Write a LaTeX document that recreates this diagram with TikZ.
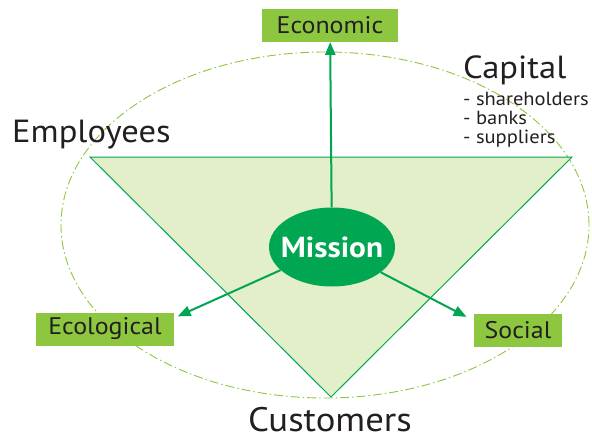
\documentclass[tikz,border=0pt]{standalone}
\usepackage{fontspec}
\setmainfont{PT Sans}[FakeStretch=1.08]
\usetikzlibrary{arrows,shapes.geometric}
\definecolor{leaf}{HTML}{8DC63F}
\definecolor{forest}{HTML}{00A651}
\definecolor{pale}{HTML}{E2EFC9}
\definecolor{ink}{HTML}{231F20}
\begin{document}
\begin{tikzpicture}[x=1pt,y=-1pt]
\tikzstyle{every node}=[inner sep=0pt,text=ink]
\tikzstyle{goal}=[fill=leaf,minimum height=33pt,inner xsep=12pt,font=\fontsize{24}{28}\selectfont]
\tikzstyle{party}=[font=\fontsize{32}{38}\selectfont]
\tikzstyle{push}=[draw=forest,line width=2pt,-triangle 45]
\useasboundingbox (0,0) rectangle (592,439);
\draw[leaf,line width=0.9pt,dash pattern=on 9pt off 3pt on 1.5pt off 3pt] (325,225) ellipse [x radius=264pt,y radius=173pt];
\draw (90,157) coordinate (t1) (572,157) coordinate (t2) (331,397) coordinate (t3);
\filldraw[fill=pale,draw=forest,line width=1pt] (t1) -- (t2) -- (t3) -- cycle;
\draw (330,25.5) node (econ) [goal,inner xsep=15pt] {Economic};
\draw (105,329) node (eco) [goal] {Ecological};
\draw (518,330.5) node (soc) [goal,inner xsep=11pt] {Social};
\draw (332,247) node (mission) [ellipse,fill=forest,inner xsep=-7pt,minimum width=126pt,minimum height=79pt,text=white,font=\bfseries\fontsize{29}{34}\selectfont] {Mission};
\draw[push] (mission) -- (econ);
\draw[push] (mission) -- ([xshift=4pt,yshift=-4pt]eco.north east);
\draw[push] (mission) -- ([xshift=-7pt,yshift=-3pt]soc.north west);
\draw (12,142) node (staff) [party,anchor=base west] {Employees};
\draw (330,431) node (buyers) [party,font=\fontsize{34}{40}\selectfont,anchor=base] {Customers};
\draw (463,78) node (capital) [party,anchor=base west] {Capital};
\draw (463,92) node (lenders) [anchor=north west,align=left,font=\fontsize{19}{19}\selectfont] {- shareholders\\- banks\\- suppliers};
\end{tikzpicture}
\end{document}
